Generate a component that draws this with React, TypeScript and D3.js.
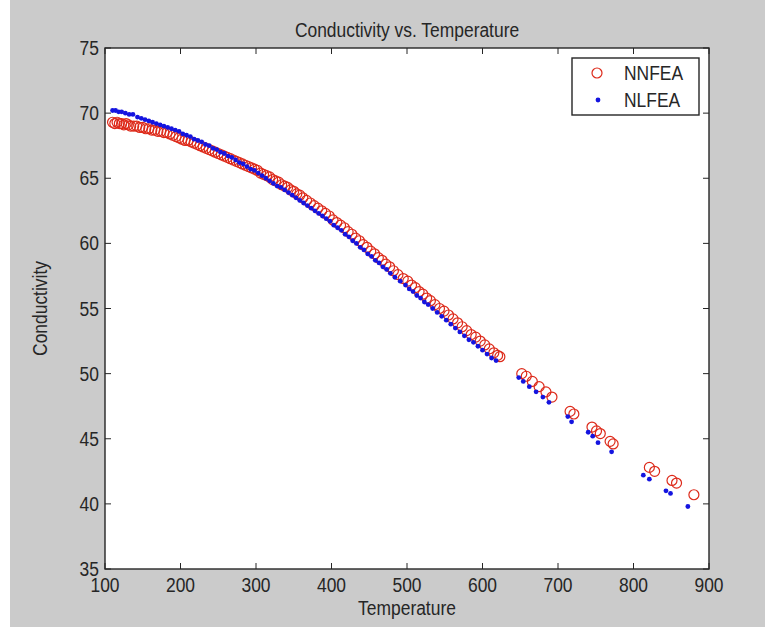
import React from "react";
import * as d3 from "d3";

// values
const nnfeaTemp = [
  110, 113, 116, 119, 122, 125, 128, 131, 134, 138, 142, 146, 150, 154, 158, 162, 166, 170, 174, 178,
  182, 186, 190, 194, 198, 202, 206, 210, 214, 218, 222, 226, 230, 234, 238, 242, 246, 250, 254, 258,
  262, 266, 270, 274, 278, 282, 286, 290, 294, 298, 302, 306, 310, 314, 318, 322, 326, 330, 334, 338,
  342, 346, 350, 354, 358, 362, 367, 372, 377, 382, 387, 392, 397, 402, 407, 412, 417, 422, 427, 432,
  437, 442, 447, 452, 457, 462, 467, 472, 477, 482, 488, 495, 501, 506, 511, 516, 521, 526, 531, 537,
  543, 549, 555, 561, 567, 573, 579, 585, 591, 597, 603, 609, 615, 620, 623,
  652, 658, 666, 675, 684, 692, 716, 721, 745, 751, 756, 769, 773, 821, 828, 851, 857, 880,
];
const nnfeaCond = [
  69.3, 69.2, 69.3, 69.2, 69.2, 69.1, 69.2, 69.1, 69.0, 69.0, 69.0, 68.9, 68.9, 68.8, 68.8, 68.7, 68.7, 68.6, 68.6, 68.5,
  68.5, 68.4, 68.3, 68.2, 68.1, 68.0, 67.9, 67.9, 67.8, 67.7, 67.6, 67.5, 67.4, 67.3, 67.2, 67.1, 67.0, 66.9, 66.8, 66.7,
  66.6, 66.5, 66.4, 66.3, 66.2, 66.1, 66.0, 65.9, 65.8, 65.7, 65.6, 65.4, 65.3, 65.2, 65.1, 64.9, 64.8, 64.7, 64.5, 64.4,
  64.3, 64.1, 64.0, 63.8, 63.7, 63.5, 63.3, 63.1, 62.9, 62.7, 62.5, 62.3, 62.1, 61.8, 61.6, 61.4, 61.2, 60.9, 60.7, 60.4,
  60.2, 59.9, 59.7, 59.4, 59.2, 58.9, 58.7, 58.4, 58.2, 57.9, 57.6, 57.3, 57.1, 56.8, 56.6, 56.3, 56.1, 55.8, 55.6, 55.3,
  55.0, 54.8, 54.5, 54.2, 53.9, 53.6, 53.3, 53.0, 52.8, 52.5, 52.2, 51.9, 51.6, 51.4, 51.3,
  50.0, 49.8, 49.4, 49.0, 48.6, 48.2, 47.1, 46.9, 45.9, 45.6, 45.4, 44.8, 44.6, 42.8, 42.5, 41.8, 41.6, 40.7,
];

const nlfeaTemp = [
  110, 114, 118, 122, 127, 132, 137, 143, 148, 153, 158, 163, 168, 173, 178, 183, 188, 193, 198, 203,
  208, 213, 218, 223, 228, 233, 238, 243, 248, 253, 258, 263, 268, 273, 278, 283, 288, 293, 298, 303,
  308, 313, 318, 323, 328, 333, 338, 343, 348, 353, 358, 363, 368, 373, 378, 383, 388, 393, 398, 403,
  408, 413, 418, 423, 428, 433, 438, 443, 448, 453, 458, 463, 468, 473, 478, 484, 491, 498, 503, 508,
  513, 518, 523, 528, 534, 540, 546, 552, 558, 564, 570, 576, 582, 588, 594, 600, 606, 612, 618,
  648, 654, 662, 671, 680, 688, 713, 718, 740, 746, 753, 771, 813, 821, 843, 849, 872,
];
const nlfeaCond = [
  70.2, 70.2, 70.1, 70.1, 70.0, 69.9, 69.9, 69.7, 69.6, 69.5, 69.4, 69.3, 69.2, 69.1, 69.0, 68.9, 68.8, 68.7, 68.6, 68.4,
  68.3, 68.2, 68.0, 67.9, 67.8, 67.6, 67.5, 67.3, 67.2, 67.0, 66.9, 66.7, 66.6, 66.4, 66.2, 66.1, 65.9, 65.7, 65.6, 65.4,
  65.2, 65.0, 64.8, 64.6, 64.4, 64.3, 64.1, 63.9, 63.7, 63.5, 63.3, 63.1, 62.9, 62.7, 62.5, 62.3, 62.1, 61.9, 61.7, 61.4,
  61.2, 61.0, 60.7, 60.5, 60.2, 60.0, 59.7, 59.5, 59.2, 59.0, 58.7, 58.5, 58.2, 58.0, 57.7, 57.4, 57.1, 56.8, 56.5, 56.3,
  56.0, 55.8, 55.5, 55.3, 55.0, 54.7, 54.4, 54.1, 53.8, 53.5, 53.2, 52.9, 52.6, 52.4, 52.1, 51.8, 51.5, 51.2, 51.0,
  49.7, 49.4, 49.0, 48.6, 48.2, 47.8, 46.7, 46.3, 45.5, 45.2, 44.7, 44.0, 42.2, 41.9, 41.0, 40.8, 39.8,
];

const xTicks = [100, 200, 300, 400, 500, 600, 700, 800, 900];
const yTicks = [35, 40, 45, 50, 55, 60, 65, 70, 75];
const seriesNames = ["NNFEA", "NLFEA"];

const W = 765;
const H = 629;
const RED = "#dd2a1a";
const BLUE = "#1414e0";
const INK = "#262626";
const FONT = "'Liberation Sans', Arial, sans-serif";
const SX = 0.83;

const Label = ({ x, y, anchor = "middle", rotate = 0, size = 21, children }) => (
  <text
    transform={`translate(${x},${y}) rotate(${rotate}) scale(${SX},1)`}
    textAnchor={anchor}
    dominantBaseline="central"
    fontFamily={FONT}
    fontSize={size}
    fill={INK}
  >
    {children}
  </text>
);

export default function App() {
  const x = d3.scaleLinear().domain([100, 900]).range([105, 709]);
  const y = d3.scaleLinear().domain([35, 75]).range([569, 48]);
  const [x0, x1] = x.range();
  const [y0, y1] = y.range();
  const tick = 6;

  return (
    <svg width={W} height={H} style={{ position: "absolute", left: 0, top: 0 }}>
      <rect x={0} y={0} width={W} height={H} fill="#fff" />
      <rect x={10} y={0} width={W - 10} height={627} fill="#cbcbcb" />
      <rect x={x0} y={y1} width={x1 - x0} height={y0 - y1} fill="#fff" />

      {nnfeaTemp.map((t, i) => (
        <circle key={"r" + i} cx={x(t)} cy={y(nnfeaCond[i])} r={5} fill="none" stroke={RED} strokeWidth={1.2} />
      ))}
      {nlfeaTemp.map((t, i) => (
        <circle key={"b" + i} cx={x(t)} cy={y(nlfeaCond[i])} r={2.4} fill={BLUE} />
      ))}

      {/* ticks on all four sides, pointing in */}
      {xTicks.map((t) => (
        <g key={"xt" + t} stroke={INK} strokeWidth={1}>
          <line x1={x(t)} x2={x(t)} y1={y0} y2={y0 - tick} />
          <line x1={x(t)} x2={x(t)} y1={y1} y2={y1 + tick} />
        </g>
      ))}
      {yTicks.map((t) => (
        <g key={"yt" + t} stroke={INK} strokeWidth={1}>
          <line x1={x0} x2={x0 + tick} y1={y(t)} y2={y(t)} />
          <line x1={x1} x2={x1 - tick} y1={y(t)} y2={y(t)} />
        </g>
      ))}
      <rect x={x0} y={y1} width={x1 - x0} height={y0 - y1} fill="none" stroke={INK} strokeWidth={1.4} />

      {xTicks.map((t) => (
        <Label key={"xl" + t} x={x(t)} y={y0 + 16}>{t}</Label>
      ))}
      {yTicks.map((t) => (
        <Label key={"yl" + t} x={x0 - 6} y={y(t)} anchor="end">{t}</Label>
      ))}

      <Label x={(x0 + x1) / 2} y={30}>Conductivity vs. Temperature</Label>
      <Label x={(x0 + x1) / 2} y={608}>Temperature</Label>
      <Label x={40} y={(y0 + y1) / 2} rotate={-90}>Conductivity</Label>

      {/* legend */}
      <rect x={572} y={58} width={127} height={57} fill="#fff" stroke={INK} strokeWidth={1.4} />
      <circle cx={597} cy={73} r={5} fill="none" stroke={RED} strokeWidth={1.2} />
      <circle cx={598} cy={100} r={2.4} fill={BLUE} />
      <Label x={624} y={73} anchor="start">{seriesNames[0]}</Label>
      <Label x={624} y={100} anchor="start">{seriesNames[1]}</Label>
    </svg>
  );
}
